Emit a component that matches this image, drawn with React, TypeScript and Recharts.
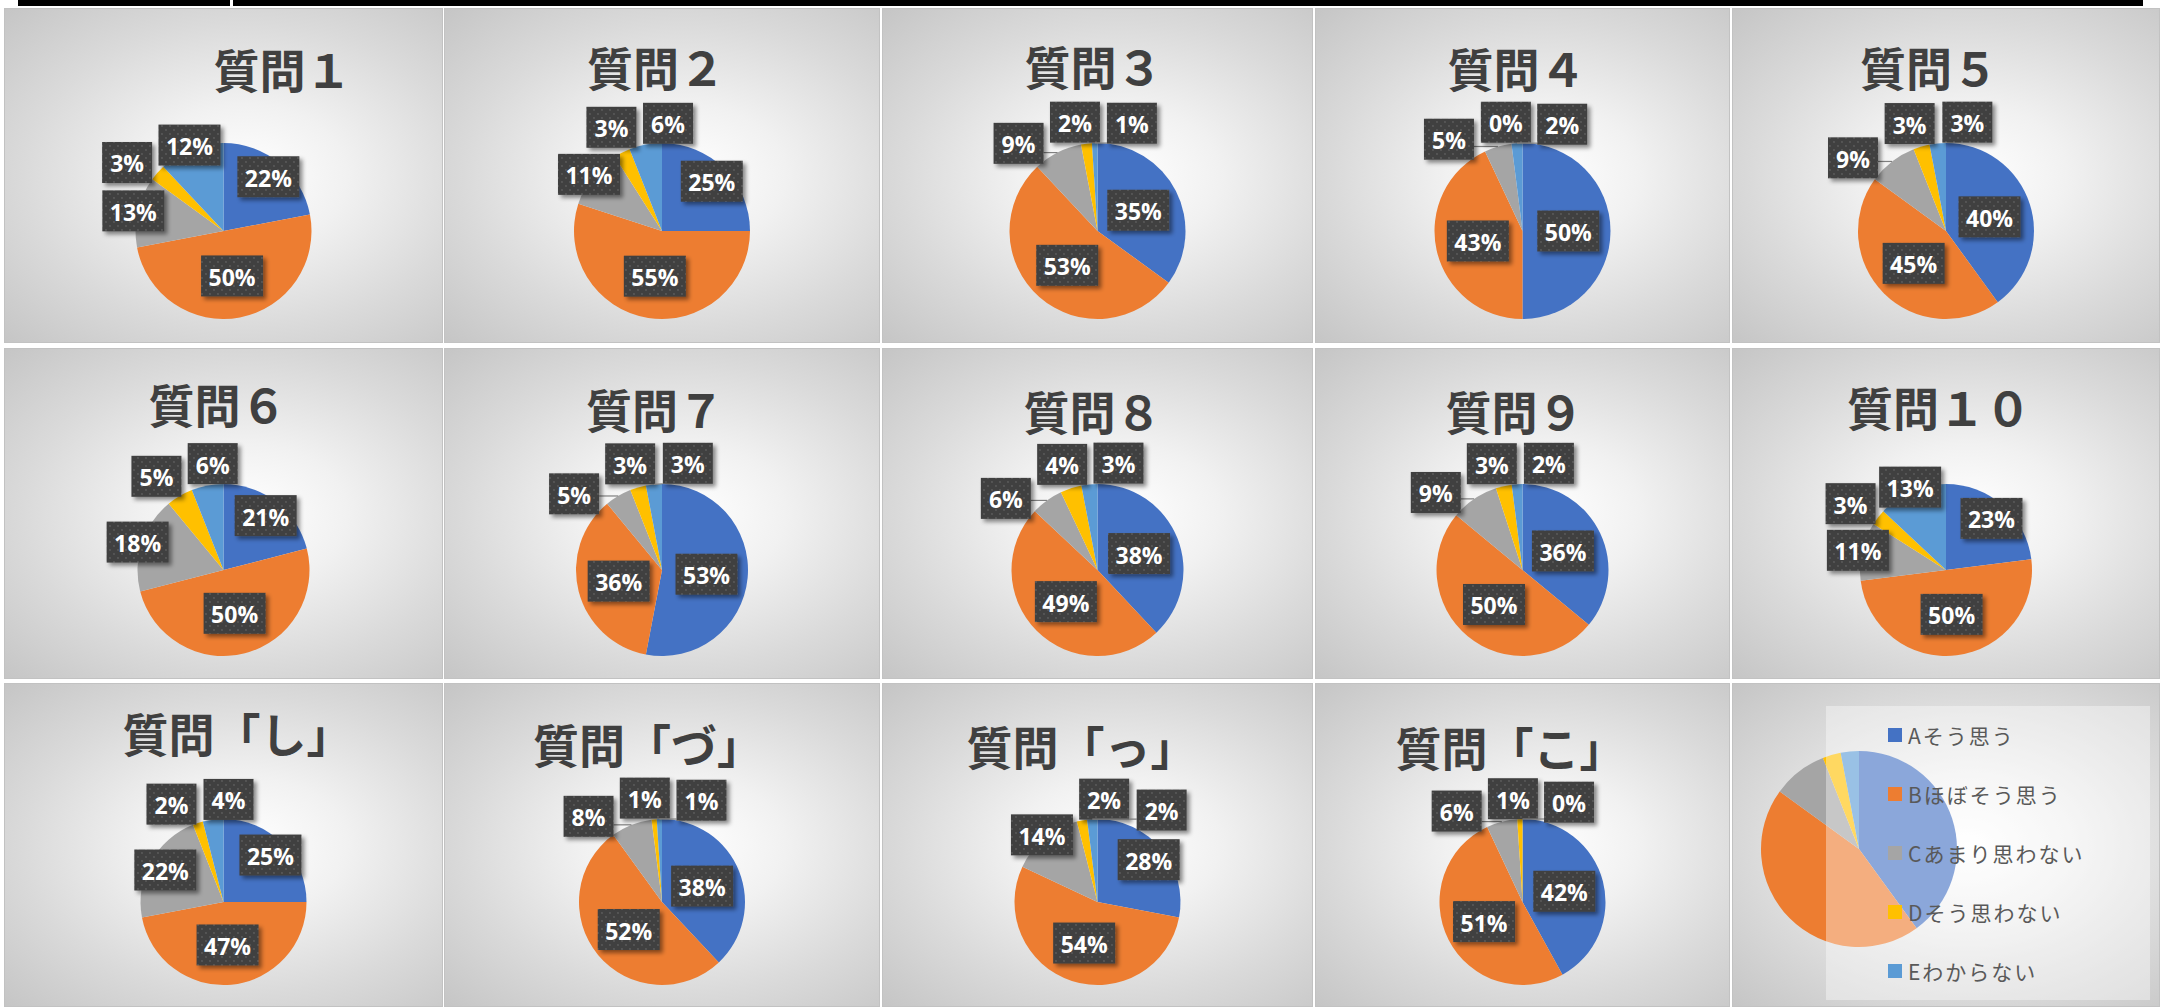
import { Cell, Legend, Pie, PieChart } from 'recharts';

const CATEGORIES = ['Aそう思う', 'Bほぼそう思う', 'Cあまり思わない', 'Dそう思わない', 'Eわからない'];
const COLORS = ['#4472C4', '#ED7D31', '#A5A5A5', '#FFC000', '#5B9BD5'];

const TITLES = [
  '質問１', '質問２', '質問３', '質問４', '質問５',
  '質問６', '質問７', '質問８', '質問９', '質問１０',
  '質問「し」', '質問「づ」', '質問「っ」', '質問「こ」',
];

// percentages per answer A..E
const Q1 = [22, 50, 13, 3, 12];
const Q2 = [25, 55, 11, 3, 6];
const Q3 = [35, 53, 9, 2, 1];
const Q4 = [50, 43, 5, 0, 2];
const Q5 = [40, 45, 9, 3, 3];
const Q6 = [21, 50, 18, 5, 6];
const Q7 = [53, 36, 5, 3, 3];
const Q8 = [38, 49, 6, 4, 3];
const Q9 = [36, 50, 9, 3, 2];
const Q10 = [23, 50, 11, 3, 13];
const Q_SHI = [25, 47, 22, 2, 4];
const Q_ZU = [38, 52, 8, 1, 1];
const Q_TSU = [28, 54, 14, 2, 2];
const Q_KO = [42, 51, 6, 1, 0];
const LEGEND_PIE = [40, 45, 9, 3, 3];

const SERIES = [Q1, Q2, Q3, Q4, Q5, Q6, Q7, Q8, Q9, Q10, Q_SHI, Q_ZU, Q_TSU, Q_KO];

// panel grid (screen layout)
const COL_X = [4, 444, 882, 1315, 1732];
const COL_W = [439, 436, 431, 415, 428];
const ROW_Y = [8, 348, 683];
const ROW_H = [335, 331, 324];
const ROW_CY = [223, 222, 219];
const ROW_R = [88, 86, 83];
// title offset from panel centre (dx) and title centre y
const TITLE_POS = [
  [59, 60], [-6, 58], [-4, 57], [-6, 59], [-17, 58],
  [-6, 55], [-7, 60], [-5, 62], [-8, 62], [-7, 58],
  [14, 49], [-14, 60], [-16, 62], [-12, 63],
];

type Box = {
  x: number; y: number; w: number; h: number;
  theta: number; mid: number; f: number; out: boolean;
};

const wrap = (d: number) => ((((d + 180) % 360) + 360) % 360) - 180;

// rough "best fit": big slices inside, small ones outside, then slide
// the outside boxes round the circle until nothing overlaps
function layoutLabels(values: number[], r: number): Box[] {
  const total = values.reduce((a, b) => a + b, 0);
  let acc = 0;
  const boxes: Box[] = values.map((v) => {
    const pct = (v / total) * 100;
    const mid = ((acc + v / 2) / total) * 360;
    acc += v;
    return {
      x: 0, y: 0, w: 38 + 12 * String(v).length, h: 41,
      theta: mid, mid, f: pct >= 30 ? 0.52 : pct >= 20 ? 0.8 : 1.05, out: pct < 10,
    };
  });
  const place = (b: Box) => {
    const t = (b.theta * Math.PI) / 180;
    const s = Math.sin(t);
    const c = -Math.cos(t);
    const rho = b.out ? r - 2 + (Math.abs(s) * b.w) / 2 + (Math.abs(c) * b.h) / 2 : r * b.f;
    b.x = s * rho;
    b.y = c * rho;
  };
  boxes.forEach(place);
  const G = 6;
  for (let k = 0; k < 300; k++) {
    let hit = false;
    for (let i = 0; i < boxes.length; i++) {
      for (let j = i + 1; j < boxes.length; j++) {
        const a = boxes[i];
        const b = boxes[j];
        if (!a.out && !b.out) continue;
        const ox = (a.w + b.w) / 2 + G - Math.abs(a.x - b.x);
        const oy = (a.h + b.h) / 2 + G - Math.abs(a.y - b.y);
        if (ox <= 0 || oy <= 0) continue;
        hit = true;
        if (a.out && b.out) {
          const s = wrap(b.theta - a.theta) >= 0 ? 1 : -1;
          a.theta -= s * 0.5;
          b.theta += s * 0.5;
        } else {
          const m = a.out ? a : b;
          const o = a.out ? b : a;
          const phi = (Math.atan2(o.x, -o.y) * 180) / Math.PI;
          m.theta += wrap(m.theta - phi) >= 0 ? 1 : -1;
        }
      }
    }
    boxes.forEach(place);
    if (!hit) break;
  }
  return boxes;
}

function makeLabel(boxes: Box[], values: number[], r: number) {
  return (props: any) => {
    const { cx, cy, index } = props;
    const b = boxes[index];
    const bx = cx + b.x;
    const by = cy + b.y;
    let line = null;
    if (b.out) {
      const t = (b.mid * Math.PI) / 180;
      const ex = cx + Math.sin(t) * r;
      const ey = cy - Math.cos(t) * r;
      const px = Math.min(Math.max(ex, bx - b.w / 2), bx + b.w / 2);
      const py = Math.min(Math.max(ey, by - b.h / 2), by + b.h / 2);
      if (Math.hypot(px - ex, py - ey) > 8) {
        line = <line x1={ex} y1={ey} x2={px} y2={py} stroke="#7f7f7f" strokeWidth={1.2} />;
      }
    }
    return (
      <g key={`lbl-${index}`}>
        {line}
        <rect x={bx - b.w / 2} y={by - b.h / 2} width={b.w} height={b.h} fill="url(#lblDots)" filter="url(#lblShadow)" />
        <text
          x={bx}
          y={by + 1}
          textAnchor="middle"
          dominantBaseline="central"
          fill="#ffffff"
          fontSize={23}
          fontWeight={700}
          fontFamily="'Open Sans', 'Noto Sans', sans-serif"
        >
          {values[index]}%
        </text>
      </g>
    );
  };
}

const panelBg: React.CSSProperties = {
  position: 'absolute',
  background: 'radial-gradient(ellipse farthest-corner at 55% 50%, #ffffff 0%, #f1f1f1 30%, #dadada 65%, #c5c5c5 100%)',
  boxShadow: 'inset 0 0 0 1px #c2c2c2',
  overflow: 'hidden',
};

function QuestionPanel({ idx }: { idx: number }) {
  const col = idx % 5;
  const row = Math.floor(idx / 5);
  const w = COL_W[col];
  const h = ROW_H[row];
  const r = ROW_R[row];
  const values = SERIES[idx];
  const data = CATEGORIES.map((name, i) => ({ name, value: values[i] }));
  const boxes = layoutLabels(values, r);
  const [tdx, ty] = TITLE_POS[idx];
  return (
    <div style={{ ...panelBg, left: COL_X[col], top: ROW_Y[row], width: w, height: h }}>
      <PieChart width={w} height={h} margin={{ top: 0, right: 0, bottom: 0, left: 0 }}>
        <Pie
          data={data}
          dataKey="value"
          nameKey="name"
          cx={w / 2}
          cy={ROW_CY[row]}
          outerRadius={r}
          startAngle={90}
          endAngle={-270}
          stroke="none"
          labelLine={false}
          label={makeLabel(boxes, values, r)}
          isAnimationActive={false}
        >
          {CATEGORIES.map((c, i) => (
            <Cell key={c} fill={COLORS[i]} />
          ))}
        </Pie>
      </PieChart>
      <div
        style={{
          position: 'absolute',
          left: w / 2 + tdx,
          top: ty,
          transform: 'translate(-50%, -50%)',
          whiteSpace: 'nowrap',
          fontSize: 46,
          fontWeight: 700,
          lineHeight: 1,
          color: '#404040',
          fontFamily: "'Noto Sans CJK JP', sans-serif",
        }}
      >
        {TITLES[idx]}
      </div>
    </div>
  );
}

const renderLegend = (props: any) => (
  <div style={{ marginTop: -1 }}>
    {(props.payload ?? []).map((p: any, i: number) => (
      <div key={p.value} style={{ height: 59, display: 'flex', alignItems: 'center', paddingLeft: 62 }}>
        <span style={{ width: 14, height: 14, background: COLORS[i], marginRight: 6, flex: 'none' }} />
        <span
          style={{
            fontSize: 21,
            letterSpacing: 2,
            color: '#595959',
            fontFamily: "'Noto Sans CJK JP', sans-serif",
            whiteSpace: 'nowrap',
          }}
        >
          {p.value}
        </span>
      </div>
    ))}
  </div>
);

function LegendPanel() {
  const w = COL_W[4];
  const h = ROW_H[2];
  const data = CATEGORIES.map((name, i) => ({ name, value: LEGEND_PIE[i] }));
  return (
    <div style={{ ...panelBg, left: COL_X[4], top: ROW_Y[2], width: w, height: h }}>
      <PieChart width={w} height={h} margin={{ top: 0, right: 0, bottom: 0, left: 0 }}>
        <Pie
          data={data}
          dataKey="value"
          nameKey="name"
          cx={127}
          cy={166}
          outerRadius={98}
          startAngle={90}
          endAngle={-270}
          stroke="none"
          isAnimationActive={false}
        >
          {CATEGORIES.map((c, i) => (
            <Cell key={c} fill={COLORS[i]} />
          ))}
        </Pie>
        <Legend
          layout="vertical"
          align="right"
          verticalAlign="middle"
          content={renderLegend}
          wrapperStyle={{ left: 94, top: 23, width: 324, height: 294, background: 'rgba(255,255,255,0.38)' }}
        />
      </PieChart>
    </div>
  );
}

export default function App() {
  return (
    <div style={{ position: 'absolute', left: 0, top: 0, width: 2164, height: 1007, background: '#ffffff', overflow: 'hidden' }}>
      <svg width="0" height="0" style={{ position: 'absolute' }}>
        <defs>
          <pattern id="lblDots" width="8" height="8" patternUnits="userSpaceOnUse">
            <rect width="8" height="8" fill="#404040" />
            <circle cx="2" cy="2" r="0.9" fill="#5c5c5c" />
            <circle cx="6" cy="6" r="0.9" fill="#5c5c5c" />
          </pattern>
          <filter id="lblShadow" x="-20%" y="-20%" width="150%" height="160%">
            <feDropShadow dx="3" dy="3" stdDeviation="2" floodColor="#000" floodOpacity="0.45" />
          </filter>
        </defs>
      </svg>
      <div style={{ position: 'absolute', left: 18, top: 0, width: 2125, height: 6, background: '#000' }} />
      <div style={{ position: 'absolute', left: 230, top: 0, width: 3, height: 6, background: '#fff' }} />
      {SERIES.map((_, i) => (
        <QuestionPanel key={TITLES[i]} idx={i} />
      ))}
      <LegendPanel />
    </div>
  );
}
